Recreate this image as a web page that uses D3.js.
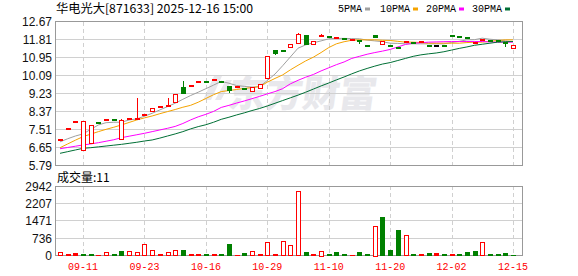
<!DOCTYPE html>
<html>
<head>
<meta charset="utf-8">
<script src="https://cdn.jsdelivr.net/npm/d3@7"></script>
<style>
  html, body { margin: 0; padding: 0; background: #fff; }
  svg { display: block; }
  text { font-family: "Liberation Sans", Arial, sans-serif; }
</style>
</head>
<body>
<div id="chart"></div>
<script>
// ---------------------------------------------------------------------------
// Data

const title = '华电光大[871633] 2025-12-16 15:00';
const volTitle = '成交量:11';

const tickIndex = [3, 11, 19, 27, 35, 43, 51, 59];
const tickLabels = ['09-11', '09-23', '10-16', '10-29', '11-10', '11-20', '12-02', '12-15'];

const priceTicks = [12.67, 11.81, 10.95, 10.09, 9.23, 8.37, 7.51, 6.65, 5.79];
const volTicks = [2942, 2207, 1471, 736, 0];

const openP = [6.98, 7.56, 7.85, 6.52, 6.83, 7.85, 7.98, 8.00, 7.02, 8.02,
  8.03, 8.14, 8.35, 8.61, 8.63, 8.80, 9.53, 9.61, 9.77, 9.80,
  9.90, 9.81, 9.57, 9.56, 9.50, 9.34, 9.50, 9.95, 11.31, 11.31,
  11.44, 11.63, 12.03, 11.59, 12.00, 11.99, 11.93, 11.86, 11.73, 11.76,
  11.56, 12.03, 11.60, 11.56, 11.45, 11.72, 11.71, 11.71, 11.56, 11.55,
  11.56, 12.04, 11.98, 11.93, 11.60, 11.83, 11.76, 11.77, 11.68, 11.41];
const highP = [7.03, 7.58, 7.88, 7.90, 7.72, 7.85, 8.00, 8.00, 8.00, 8.05,
  9.00, 8.25, 8.51, 8.64, 9.00, 9.18, 9.82, 9.64, 9.80, 9.80,
  9.93, 9.81, 9.57, 9.59, 9.50, 9.52, 9.69, 11.02, 11.31, 11.31,
  11.60, 12.12, 12.03, 11.73, 12.06, 11.99, 11.95, 11.86, 11.84, 11.76,
  11.56, 12.03, 11.75, 11.56, 11.45, 11.74, 11.71, 11.73, 11.56, 11.55,
  11.56, 12.04, 11.98, 11.93, 11.71, 11.85, 11.76, 11.77, 11.68, 11.55];
const lowP = [6.98, 7.56, 7.85, 6.50, 6.80, 7.83, 7.98, 7.98, 7.00, 8.02,
  8.03, 8.14, 8.35, 8.61, 8.62, 8.80, 9.18, 9.61, 9.77, 9.78,
  9.90, 9.79, 9.23, 9.56, 9.48, 9.34, 9.50, 9.95, 11.04, 11.29,
  11.44, 11.63, 11.57, 11.59, 12.00, 11.97, 11.93, 11.84, 11.73, 11.60,
  11.54, 11.89, 11.60, 11.54, 11.34, 11.72, 11.69, 11.71, 11.54, 11.55,
  11.54, 12.02, 11.96, 11.91, 11.60, 11.83, 11.74, 11.75, 11.47, 11.41];
const closeP = [7.02, 7.58, 7.88, 7.90, 7.70, 7.83, 8.00, 7.98, 7.95, 8.05,
  8.06, 8.25, 8.51, 8.64, 8.66, 9.18, 9.18, 9.64, 9.80, 9.78,
  9.93, 9.79, 9.34, 9.59, 9.48, 9.52, 9.69, 11.02, 11.12, 11.29,
  11.60, 12.08, 11.57, 11.73, 12.03, 11.97, 11.95, 11.84, 11.84, 11.74,
  11.54, 11.89, 11.75, 11.54, 11.43, 11.74, 11.69, 11.73, 11.54, 11.55,
  11.54, 12.02, 11.96, 11.91, 11.71, 11.85, 11.74, 11.75, 11.66, 11.55];

const volume = [140, 50, 100, 50, 50, 40, 130, 50, 200, 185,
  140, 480, 225, 50, 140, 225, 225, 50, 50, 50,
  50, 50, 480, 40, 100, 170, 50, 570, 50, 610,
  425, 2730, 140, 45, 210, 60, 130, 50, 40, 130,
  60, 1250, 1630, 225, 1080, 865, 45, 45, 90, 90,
  45, 45, 45, 130, 210, 565, 45, 45, 90, 11];
// u = red hollow, f = red filled, d = green
const volKind = ['u', 'f', 'f', 'd', 'd', 'f', 'u', 'd', 'd', 'u',
  'u', 'u', 'u', 'f', 'u', 'u', 'd', 'f', 'f', 'd',
  'f', 'd', 'd', 'f', 'd', 'u', 'f', 'u', 'f', 'u',
  'u', 'u', 'd', 'f', 'u', 'd', 'd', 'd', 'f', 'd',
  'd', 'u', 'd', 'd', 'd', 'u', 'd', 'f', 'd', 'f',
  'd', 'f', 'd', 'd', 'd', 'u', 'd', 'd', 'd', 'd'];

const ma5 = [6.90, 7.05, 7.18, 7.28, 7.50, 7.71, 7.82, 7.84, 7.84, 7.95,
  8.00, 8.13, 8.27, 8.43, 8.59, 8.75, 8.94, 9.12, 9.28, 9.45,
  9.62, 9.80, 9.71, 9.60, 9.56, 9.52, 9.55, 9.84, 10.15, 10.55,
  10.97, 11.39, 11.55, 11.65, 11.74, 11.84, 11.86, 11.86, 11.85, 11.84,
  11.78, 11.74, 11.70, 11.63, 11.62, 11.60, 11.60, 11.60, 11.60, 11.60,
  11.60, 11.66, 11.72, 11.79, 11.80, 11.87, 11.82, 11.79, 11.74, 11.70];
const ma10 = [6.62, 6.80, 6.98, 7.15, 7.27, 7.39, 7.50, 7.60, 7.71, 7.83,
  7.95, 8.05, 8.14, 8.25, 8.35, 8.45, 8.56, 8.65, 8.80, 8.98,
  9.16, 9.31, 9.36, 9.41, 9.46, 9.50, 9.55, 9.76, 9.94, 10.11,
  10.35, 10.57, 10.78, 10.96, 11.18, 11.42, 11.60, 11.70, 11.77, 11.79,
  11.79, 11.79, 11.77, 11.76, 11.72, 11.68, 11.68, 11.66, 11.63, 11.63,
  11.63, 11.63, 11.63, 11.66, 11.68, 11.68, 11.72, 11.76, 11.79, 11.79];
const ma20 = [6.57, 6.63, 6.69, 6.75, 6.80, 6.86, 6.93, 7.00, 7.10, 7.17,
  7.24, 7.31, 7.39, 7.47, 7.55, 7.64, 7.78, 7.95, 8.10, 8.22,
  8.36, 8.55, 8.65, 8.76, 8.86, 8.97, 9.08, 9.20, 9.31, 9.45,
  9.68, 9.85, 10.00, 10.13, 10.30, 10.45, 10.60, 10.73, 10.90, 11.00,
  11.10, 11.18, 11.25, 11.33, 11.45, 11.57, 11.63, 11.65, 11.68, 11.69,
  11.70, 11.71, 11.71, 11.71, 11.71, 11.71, 11.69, 11.68, 11.68, 11.68];
const ma30 = [6.35, 6.43, 6.51, 6.59, 6.62, 6.66, 6.70, 6.74, 6.78, 6.83,
  6.88, 6.94, 6.99, 7.08, 7.18, 7.28, 7.39, 7.52, 7.63, 7.72,
  7.84, 7.98, 8.08, 8.19, 8.29, 8.40, 8.50, 8.62, 8.75, 8.88,
  9.01, 9.14, 9.28, 9.43, 9.58, 9.72, 9.87, 10.01, 10.16, 10.30,
  10.42, 10.53, 10.63, 10.70, 10.80, 10.90, 11.00, 11.07, 11.12, 11.16,
  11.22, 11.30, 11.38, 11.45, 11.53, 11.58, 11.63, 11.68, 11.70, 11.71];

const maNames = ['5PMA', '10PMA', '20PMA', '30PMA'];

// ---------------------------------------------------------------------------
// Layout

const W = 578, H = 276;
const RED = '#ff0000', GREEN = '#008000', GRID = '#d0d0d0', BORDER = '#999';
const maColors = ['#a0a0a0', '#f5a300', '#ff00ff', '#006f35'];
const maSeries = [ma5, ma10, ma20, ma30];

const left = 55.5, right = 522.5;
const mainTop = 21.5, mainBottom = 165.5;
const volTop = 186, volBottom = 255.5;

const svg = d3.select('#chart').append('svg')
  .attr('width', W).attr('height', H);

const x = d3.scaleLinear().domain([-0.59, 60.24]).range([left, right]);
const y = d3.scaleLinear().domain([5.79, 12.67]).range([mainBottom - 0.5, mainTop]);
const yv = d3.scaleLinear().domain([0, 2942]).range([volBottom, volTop]);

const px = v => Math.round(v) + 0.5;
const idx = d3.range(openP.length);

// watermark
const wm = svg.append('g').attr('fill', '#e8e8ec');
wm.append('path')
  .attr('d', 'M203,100 L214,76 L222,76 L211,100 Z M215,100 L226,80 L232,80 L221,100 Z');
wm.append('text')
  .attr('x', 228).attr('y', 107)
  .attr('transform', 'skewX(-8) translate(14,0)')
  .style('font-family', '"Noto Sans CJK SC", sans-serif')
  .style('font-size', '37px').style('font-weight', 900)
  .text('东方财富');

// ---------------------------------------------------------------------------
// Grids

function drawGrid(top, bottom, ticks, scale) {
  const g = svg.append('g').attr('shape-rendering', 'crispEdges');
  g.selectAll('line.h').data(ticks).enter().append('line')
    .attr('x1', left).attr('x2', right)
    .attr('y1', d => px(scale(d) - 0.5)).attr('y2', d => px(scale(d) - 0.5))
    .attr('stroke', GRID);
  g.selectAll('line.v').data(tickIndex).enter().append('line')
    .attr('x1', d => px(x(d))).attr('x2', d => px(x(d)))
    .attr('y1', top).attr('y2', bottom)
    .attr('stroke', GRID).attr('stroke-dasharray', '4,3');
  g.append('rect')
    .attr('x', left).attr('y', top)
    .attr('width', right - left).attr('height', bottom - top)
    .attr('fill', 'none').attr('stroke', BORDER);
}
drawGrid(mainTop, mainBottom, priceTicks, y);
drawGrid(volTop, volBottom, volTicks, yv);

// y labels
svg.append('g').selectAll('text').data(priceTicks).enter().append('text')
  .attr('x', 52).attr('y', d => y(d) + 4.5)
  .attr('text-anchor', 'end')
  .style('font-size', '12px').attr('fill', '#111')
  .text(d => d.toFixed(2));
svg.append('g').selectAll('text').data(volTicks).enter().append('text')
  .attr('x', 52).attr('y', d => yv(d) + 4.5)
  .attr('text-anchor', 'end')
  .style('font-size', '12px').attr('fill', '#111')
  .text(d => d);

// x labels
svg.append('g').selectAll('text').data(tickIndex).enter().append('text')
  .attr('x', d => x(d)).attr('y', 270)
  .attr('text-anchor', 'middle')
  .style('font-family', '"Liberation Mono", monospace')
  .style('font-size', '10px').attr('fill', RED)
  .text((d, i) => tickLabels[i]);

// ---------------------------------------------------------------------------
// MA lines

const maG = svg.append('g');
maSeries.forEach((s, k) => {
  maG.append('path')
    .attr('d', d3.line().x(i => x(i)).y(i => y(s[i]))(idx))
    .attr('fill', 'none').attr('stroke', maColors[k]).attr('stroke-width', 1);
});

// ---------------------------------------------------------------------------
// Candles

const cg = svg.append('g').attr('shape-rendering', 'crispEdges');
idx.forEach(i => {
  const o = openP[i], c = closeP[i];
  const col = c > o ? RED : (c < o ? GREEN : '#000');
  const xc = px(x(i));
  cg.append('line')
    .attr('x1', xc).attr('x2', xc)
    .attr('y1', y(highP[i])).attr('y2', y(lowP[i]))
    .attr('stroke', col);
  const yTop = y(Math.max(o, c)), yBot = y(Math.min(o, c));
  const h = yBot - yTop;
  if (h < 2.5) {
    cg.append('rect')
      .attr('x', xc - 2.5).attr('y', Math.round(yTop))
      .attr('width', 5).attr('height', 2).attr('fill', col);
  } else if (c > o) {
    cg.append('rect')
      .attr('x', xc - 2).attr('y', px(yTop))
      .attr('width', 4).attr('height', Math.round(h))
      .attr('fill', '#fff').attr('stroke', RED);
  } else {
    cg.append('rect')
      .attr('x', xc - 2.5).attr('y', Math.round(yTop))
      .attr('width', 5).attr('height', Math.round(h)).attr('fill', GREEN);
  }
});

// ---------------------------------------------------------------------------
// Volume bars

const vg = svg.append('g').attr('shape-rendering', 'crispEdges');
idx.forEach(i => {
  const xc = px(x(i));
  const h = Math.max(volBottom - yv(volume[i]), 1);
  const k = volKind[i];
  if (k === 'u' && h > 2) {
    vg.append('rect')
      .attr('x', xc - 2).attr('y', px(volBottom - h))
      .attr('width', 4).attr('height', Math.round(h) - 0.5)
      .attr('fill', '#fff').attr('stroke', RED);
  } else {
    vg.append('rect')
      .attr('x', xc - 2.5).attr('y', Math.round(volBottom - h))
      .attr('width', 5).attr('height', Math.round(volBottom) - Math.round(volBottom - h))
      .attr('fill', k === 'd' ? GREEN : RED);
  }
});

// ---------------------------------------------------------------------------
// Titles and legend

svg.append('text')
  .attr('x', 56).attr('y', 12.5)
  .attr('textLength', 197).attr('lengthAdjust', 'spacingAndGlyphs')
  .style('font-family', '"Noto Sans CJK SC", sans-serif')
  .style('font-size', '12px').attr('fill', '#000')
  .text(title);

svg.append('text')
  .attr('x', 57).attr('y', 181.5)
  .style('font-family', '"Noto Sans CJK SC", sans-serif')
  .style('font-size', '12px').attr('fill', '#000')
  .text(volTitle);

const legendX = [338, 380, 426, 472];
const lg = svg.append('g');
maNames.forEach((n, k) => {
  const t = lg.append('text')
    .attr('x', legendX[k]).attr('y', 12)
    .style('font-family', '"Liberation Mono", monospace')
    .style('font-size', '10px').attr('fill', '#000')
    .text(n);
  lg.append('rect')
    .attr('x', legendX[k] + n.length * 6 + 3).attr('y', 7.5)
    .attr('width', 5).attr('height', 3)
    .attr('fill', maColors[k]);
});
</script>
</body>
</html>
